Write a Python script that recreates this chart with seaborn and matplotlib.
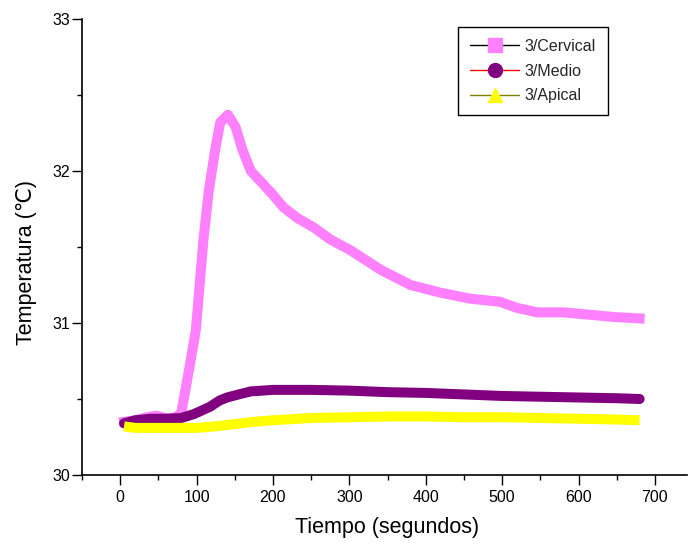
import numpy as np
import pandas as pd
import matplotlib
matplotlib.use("Agg")
import matplotlib.pyplot as plt
from matplotlib.lines import Line2D
from matplotlib.ticker import MultipleLocator
import seaborn as sns

# ---- data ----
cerv_x = [5, 20, 35, 47, 64, 73, 80, 90, 99, 109, 116, 125, 131, 141, 151, 160, 171, 184, 197,
          214, 232, 253, 275, 301, 341, 380, 419, 458, 497, 519, 546, 580, 624, 645, 680]
cerv_y = [30.35, 30.36, 30.38, 30.39, 30.37, 30.38, 30.41, 30.69, 30.95, 31.55, 31.87, 32.16, 32.32,
          32.37, 32.29, 32.14, 32.00, 31.93, 31.86, 31.76, 31.69, 31.63, 31.55, 31.48, 31.35, 31.25,
          31.20, 31.16, 31.14, 31.10, 31.07, 31.07, 31.05, 31.04, 31.03]

medio_x = [5, 20, 40, 60, 80, 96, 105, 118, 130, 140, 155, 171, 200, 214, 250, 300, 350, 400,
           450, 500, 550, 600, 650, 680]
medio_y = [30.34, 30.36, 30.37, 30.37, 30.375, 30.40, 30.42, 30.45, 30.49, 30.51, 30.53, 30.55,
           30.56, 30.56, 30.56, 30.555, 30.545, 30.54, 30.53, 30.52, 30.515, 30.51, 30.505, 30.50]

apical_x = [5, 20, 50, 100, 125, 150, 175, 200, 250, 300, 350, 400, 450, 500, 550, 600, 650, 680]
apical_y = [30.32, 30.31, 30.31, 30.31, 30.32, 30.335, 30.35, 30.36, 30.375, 30.38, 30.385,
            30.385, 30.38, 30.38, 30.375, 30.37, 30.365, 30.36]

series_names = ["3/Cervical", "3/Medio", "3/Apical"]
x_label = "Tiempo (segundos)"
y_label = "Temperatura (\u2103)"

df = pd.concat([
    pd.DataFrame({"t": cerv_x, "T": cerv_y, "s": series_names[0]}),
    pd.DataFrame({"t": medio_x, "T": medio_y, "s": series_names[1]}),
    pd.DataFrame({"t": apical_x, "T": apical_y, "s": series_names[2]}),
])

colors = ["#FF80FF", "#800080", "#FFFF00"]
line_colors = ["#000000", "#FF0000", "#808000"]
markers = ["s", "o", "^"]
caps = ["projecting", "round", "butt"]

sns.set_style("ticks")
plt.rcParams["font.family"] = ["Liberation Sans", "DejaVu Sans"]

fig = plt.figure(figsize=(6.88, 5.46), dpi=100)
ax = fig.add_axes([82 / 688, 71 / 546, 605 / 688, 456 / 546])

sns.lineplot(data=df, x="t", y="T", hue="s", palette=dict(zip(series_names, colors)),
             linewidth=7.2, ax=ax, legend=False, sort=False)
for ln, cap in zip(ax.get_lines(), caps):
    ln.set_solid_capstyle(cap)
    ln.set_solid_joinstyle("round")

ax.set_xlim(-50, 742)
ax.set_ylim(30, 33)
ax.xaxis.set_major_locator(MultipleLocator(100))
ax.xaxis.set_minor_locator(MultipleLocator(50))
ax.yaxis.set_major_locator(MultipleLocator(1))
ax.yaxis.set_minor_locator(MultipleLocator(0.5))
ax.set_xticks([0, 100, 200, 300, 400, 500, 600, 700])
ax.tick_params(axis="both", which="major", length=7, width=1, direction="out",
               labelsize=11.5, color="black", labelcolor="black")
ax.tick_params(axis="both", which="minor", length=3.5, width=1, direction="out", color="black")
ax.tick_params(axis="y", which="major", pad=1.5)
ax.tick_params(axis="x", which="major", pad=4)

for side in ["top", "right"]:
    ax.spines[side].set_visible(False)
for side in ["left", "bottom"]:
    ax.spines[side].set_linewidth(1.2)
    ax.spines[side].set_color("black")

ax.set_xlabel(x_label, fontsize=15.5, color="black")
ax.set_ylabel(y_label, fontsize=15.5, color="black")
ax.xaxis.set_label_coords(0.5035, -0.093)
ax.yaxis.set_label_coords(-0.074, 0.467)

handles = [Line2D([0], [0], color=lc, lw=1, marker=m, markersize=10,
                  markerfacecolor=c, markeredgecolor=c)
           for lc, c, m in zip(line_colors, colors, markers)]
leg = ax.legend(handles=handles, labels=series_names, loc="upper left",
                bbox_to_anchor=(458 / 688, 1 - 27 / 546), bbox_transform=fig.transFigure,
                frameon=True, fancybox=False, edgecolor="black", framealpha=1,
                fontsize=11.5, handlelength=3.1, handletextpad=0.3, borderpad=0.75,
                labelspacing=0.6, borderaxespad=0)
leg.get_frame().set_linewidth(1.0)

fig.savefig("out.png", dpi=100)
